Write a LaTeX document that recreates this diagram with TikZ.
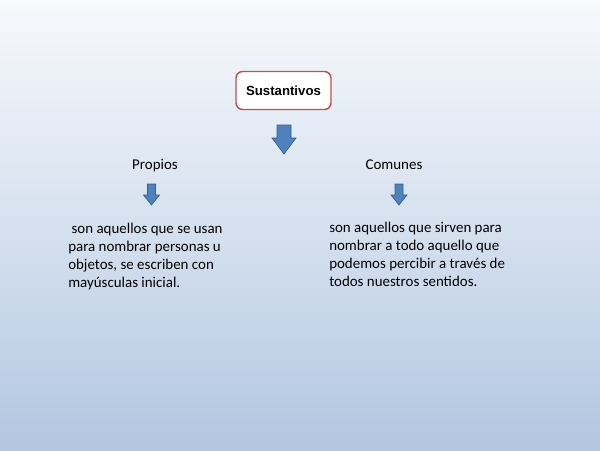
\documentclass[tikz,border=0pt]{standalone}
\usepackage{fontspec}
\setmainfont{Carlito}
\newfontfamily\arialfont{Liberation Sans}
\definecolor{bgtop}{RGB}{247,249,252}
\definecolor{bgmid}{RGB}{214,225,239}
\definecolor{bgbot}{RGB}{178,198,224}
\definecolor{arrowfill}{RGB}{79,129,189}
\definecolor{arrowline}{RGB}{56,93,138}
\definecolor{boxline}{RGB}{192,80,77}
\begin{document}
\begin{tikzpicture}[x=0.75pt,y=-0.75pt,
  bodytext/.style={font=\fontsize{11.2pt}{13.5pt}\selectfont, align=left, anchor=north west, inner sep=0pt, text=black},
  labeltext/.style={font=\fontsize{11.2pt}{13.5pt}\selectfont, inner sep=0pt, anchor=base, text=black},
  titlebox/.style={draw=boxline, line width=1.1pt, fill=white, rounded corners=5pt, minimum width=71.25pt, minimum height=28.5pt, font=\arialfont\bfseries\fontsize{9.9pt}{12pt}\selectfont},
  downarrow/.style={fill=arrowfill, draw=arrowline, line width=0.5pt, line join=miter}
]
\useasboundingbox (0,0) rectangle (600,450);
\shade[top color=bgtop, bottom color=bgbot, middle color=bgmid] (0,0) rectangle (600,450);

\node[titlebox] (sust) at (283.5,90.5) {Sustantivos};

% big arrow
\draw[downarrow] (277,125) -- (291,125) -- (291,138) -- (296,138) -- (284,154) -- (272,138) -- (277,138) -- cycle;

\node[labeltext] (propios) at (155,169) {Propios};
\node[labeltext] (comunes) at (394,169) {Comunes};

% small arrows
\draw[downarrow] (147.5,184) -- (155.5,184) -- (155.5,195) -- (159.5,195) -- (151.5,205) -- (143.5,195) -- (147.5,195) -- cycle;
\draw[downarrow] (395,184) -- (403,184) -- (403,195) -- (407,195) -- (399,205) -- (391,195) -- (395,195) -- cycle;

\node[bodytext] (ltext) at (68,223) {\ son aquellos que se usan\\para nombrar personas u\\objetos, se escriben con\\mayúsculas inicial.};
\node[bodytext] (rtext) at (329,222) {son aquellos que sirven para\\nombrar a todo aquello que\\podemos percibir a través de\\todos nuestros sentidos.};
\end{tikzpicture}
\end{document}
